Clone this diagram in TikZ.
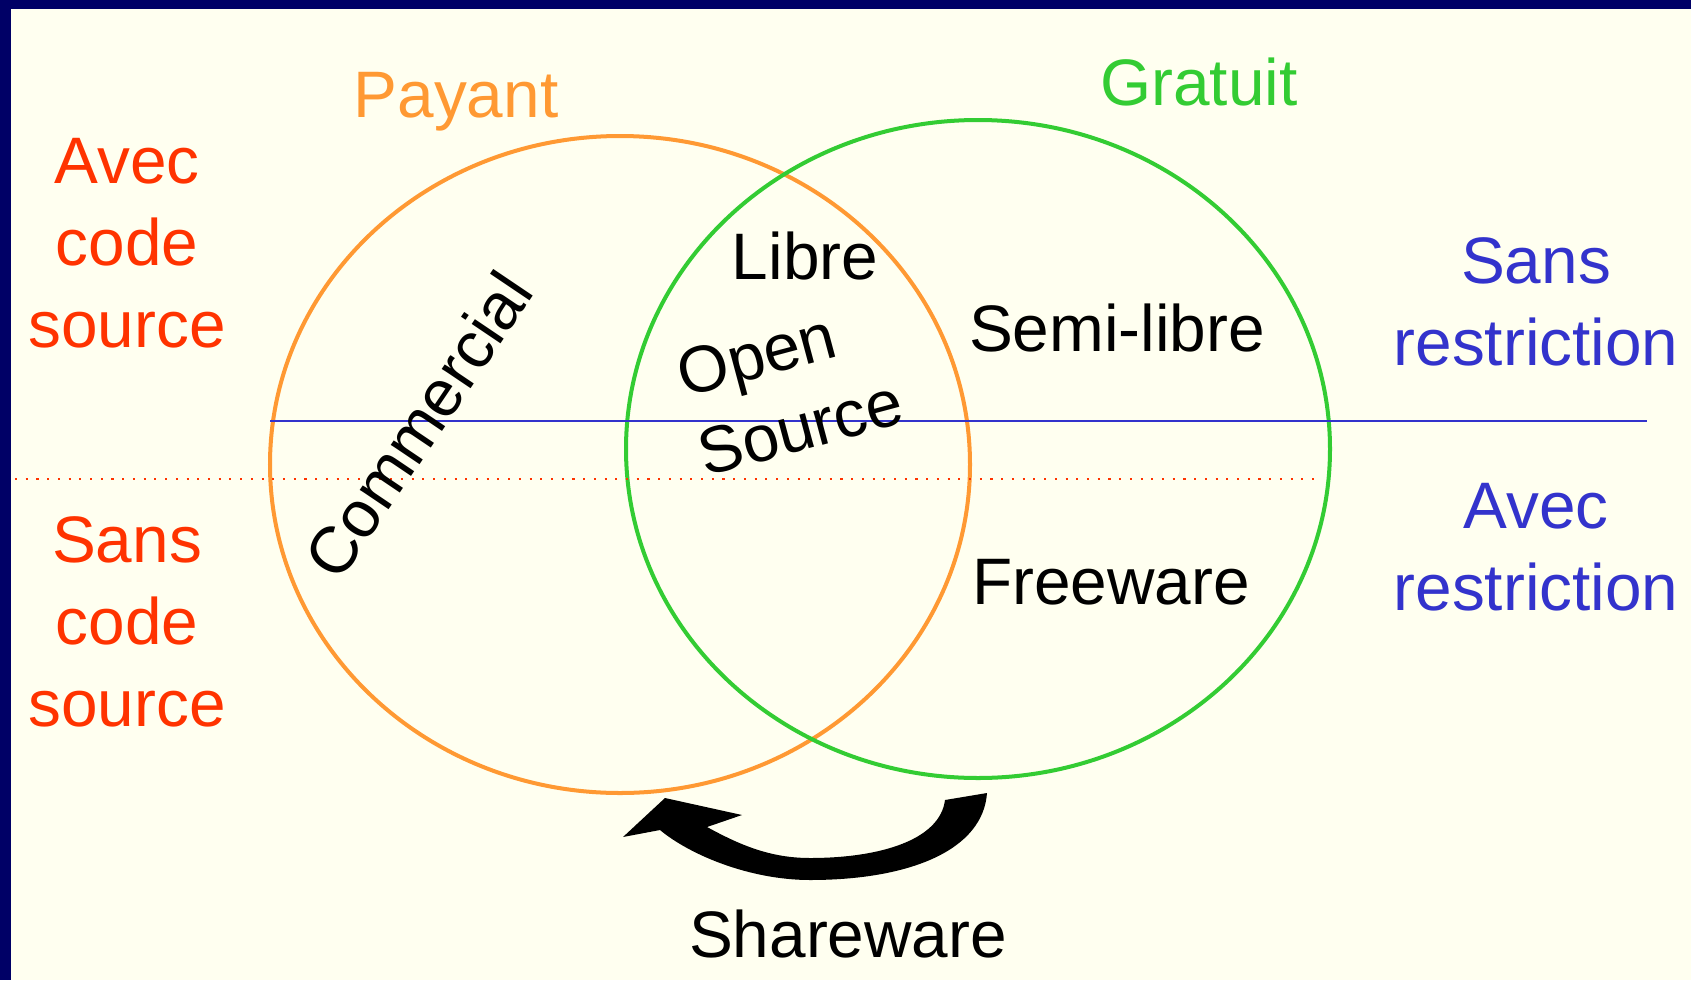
\documentclass[tikz,border=0pt]{standalone}
\usepackage{fontspec}
\setmainfont{Liberation Sans}
\definecolor{ivory}{HTML}{FFFFF0}
\definecolor{navy}{HTML}{000066}
\definecolor{payantc}{HTML}{FF9933}
\definecolor{gratuitc}{HTML}{33CC33}
\definecolor{sourcec}{HTML}{FF3300}
\definecolor{restrc}{HTML}{3333CC}
\tikzset{
  lbl/.style={font=\fontsize{18.7}{23.3}\selectfont, inner sep=0pt, align=center},
  ring/.style={line width=1.14pt}
}

\begin{document}
\begin{tikzpicture}
\useasboundingbox (0,0) rectangle (16.91,9.80);
\fill[ivory] (0,0) rectangle (16.91,9.80);
\fill[navy] (0,0) rectangle (0.11,9.80);
\fill[navy] (0,9.71) rectangle (16.91,9.80);
\draw[ring, draw=payantc] (6.20,5.155) ellipse [x radius=3.50, y radius=3.285];
\draw[ring, draw=gratuitc] (9.78,5.31) ellipse [x radius=3.52, y radius=3.29];
\coordinate (L1) at (2.70,5.593);
\coordinate (R1) at (16.47,5.593);
\coordinate (L2) at (0.15,5.01);
\coordinate (R2) at (13.22,5.01);
\draw[restrc, line width=0.57pt] (L1) -- (R1);
\draw[sourcec, line width=0.6pt, dash pattern=on 0.6pt off 2.45pt] (L2) -- (R2);
\node[lbl, text=payantc] (payant) at (4.56,8.78) {Payant};
\node[lbl, text=gratuitc] (gratuit) at (11.99,8.98) {Gratuit};
\node[lbl, text=sourcec] (avecsrc) at (1.27,7.37) {Avec\\code\\source};
\node[lbl, text=sourcec] (sanssrc) at (1.27,3.58) {Sans\\code\\source};
\node[lbl, text=restrc] (sansres) at (15.36,6.785) {Sans\\restriction};
\node[lbl, text=restrc] (avecres) at (15.36,4.325) {Avec\\restriction};
\node[lbl] (libre) at (8.05,7.24) {Libre};
\node[lbl] (semi) at (11.17,6.52) {Semi-libre};
\node[lbl, align=left, rotate=15] (open) at (7.90,5.92) {Open\\Source};
\node[lbl, rotate=56] (commercial) at (4.18,5.55) {Commercial};
\node[lbl] (freeware) at (11.11,3.98) {Freeware};
\node[lbl] (shareware) at (8.48,0.46) {Shareware};
\fill[black] (9.45,1.80) -- (9.87,1.87)
  .. controls (9.83,1.30) and (9.10,1.00) .. (8.10,1.00)
  .. controls (7.50,1.00) and (6.90,1.25) .. (6.60,1.50)
  -- (6.23,1.43) -- (6.65,1.82) -- (7.42,1.65) -- (7.07,1.53)
  .. controls (7.40,1.35) and (7.70,1.22) .. (8.10,1.22)
  .. controls (8.80,1.22) and (9.40,1.40) .. (9.45,1.80) -- cycle;
\end{tikzpicture}
\end{document}
